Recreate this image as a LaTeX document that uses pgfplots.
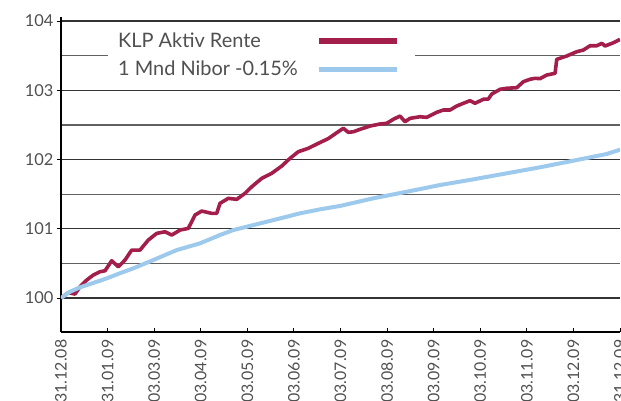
\documentclass[border=0pt]{standalone}
\usepackage{pgfplots}
\pgfplotsset{compat=1.18}
\usepackage{fontspec}
\setmainfont{Lato}
\definecolor{klp}{HTML}{A41E4B}
\definecolor{nibor}{HTML}{9DCAEC}
\definecolor{txt}{HTML}{505050}
\begin{document}
\begin{tikzpicture}
\begin{axis}[name=ax, scale only axis, width=559bp, height=315bp,
  xmin=0, xmax=12, ymin=99.51, ymax=104.058,
  axis lines*=left, axis line style={black, line width=2bp},
  tick align=outside, major tick length=4bp, minor tick length=0pt,
  xtick={0,...,12},
  xticklabels={31.12.08,31.01.09,03.03.09,03.04.09,03.05.09,03.06.09,03.07.09,03.08.09,03.09.09,03.10.09,03.11.09,03.12.09,31.12.09},
  xticklabel style={rotate=90, anchor=east, font=\fontsize{16}{16}\selectfont, text=txt},
  xtick style={yshift=4bp, line width=1bp, black},
  ytick={100,...,104},
  minor ytick={100.5,101.5,102.5,103.5},
  ytick style={line width=1bp, black},
  yticklabel style={font=\fontsize{16.5}{16.5}\selectfont, text=txt},
  /pgf/number format/assume math mode=true,
  ymajorgrids, yminorgrids,
  major grid style={color=black!80, line width=1.2bp},
  minor grid style={color=black!62, line width=1.2bp},
  legend plot pos=right, legend cell align=left,
  legend image code/.code={\draw[#1, line width=5.5bp] (0bp,0bp) -- (78bp,0bp); \path (86bp,0bp);},
  legend style={at={(rel axis cs:0.084,0.978)}, anchor=north west, draw=none, fill=white,
    inner xsep=8bp, inner ysep=7bp, font=\fontsize{20}{20}\selectfont, text=txt,
    row sep=8bp, column sep=16bp},
]
\addplot[klp, line width=3.6bp, line join=round] table {
x y
0 100.00
0.157 100.077
0.30 100.058
0.408 100.163
0.552 100.26
0.693 100.332
0.837 100.38
0.945 100.394
1.088 100.539
1.230 100.452
1.374 100.549
1.518 100.693
1.696 100.693
1.874 100.838
2.055 100.934
2.233 100.957
2.377 100.91
2.555 100.982
2.733 101.006
2.877 101.199
3.021 101.256
3.235 101.223
3.343 101.223
3.413 101.368
3.592 101.44
3.772 101.425
3.950 101.512
4.094 101.607
4.309 101.728
4.523 101.801
4.738 101.906
4.916 102.017
5.094 102.113
5.309 102.162
5.524 102.234
5.739 102.303
5.919 102.387
6.061 102.451
6.168 102.393
6.275 102.401
6.419 102.436
6.634 102.484
6.848 102.513
6.992 102.523
7.134 102.581
7.278 102.628
7.385 102.546
7.493 102.595
7.707 102.618
7.851 102.609
8.066 102.682
8.208 102.715
8.351 102.715
8.495 102.773
8.637 102.812
8.781 102.85
8.888 102.812
9.066 102.87
9.174 102.874
9.247 102.946
9.425 103.014
9.569 103.029
9.783 103.037
9.925 103.124
10.069 103.159
10.176 103.173
10.283 103.168
10.427 103.22
10.606 103.245
10.642 103.447
10.857 103.495
11.071 103.557
11.213 103.581
11.357 103.643
11.501 103.643
11.608 103.678
11.679 103.639
11.857 103.686
12.0 103.735
};
\addlegendentry{KLP Aktiv Rente}
\addplot[nibor, line width=4bp, line join=round] table {
x y
0 100.0
0.19 100.09
0.408 100.155
0.687 100.217
0.981 100.284
1.27 100.36
1.552 100.429
1.982 100.549
2.484 100.693
2.984 100.79
3.413 100.91
3.69 100.98
3.987 101.03
4.558 101.126
5.131 101.223
5.56 101.281
5.99 101.33
6.705 101.44
7.422 101.535
8.136 101.632
8.851 101.714
9.568 101.801
10.283 101.888
10.998 101.983
11.715 102.08
11.93 102.127
12 102.144
};
\addlegendentry{1 Mnd Nibor -0.15\%}
\end{axis}
\pgfresetboundingbox
\path ([shift={(-61bp,-69bp)}]ax.south west) rectangle ([shift={(1bp,17bp)}]ax.north east);
\end{tikzpicture}
\end{document}
